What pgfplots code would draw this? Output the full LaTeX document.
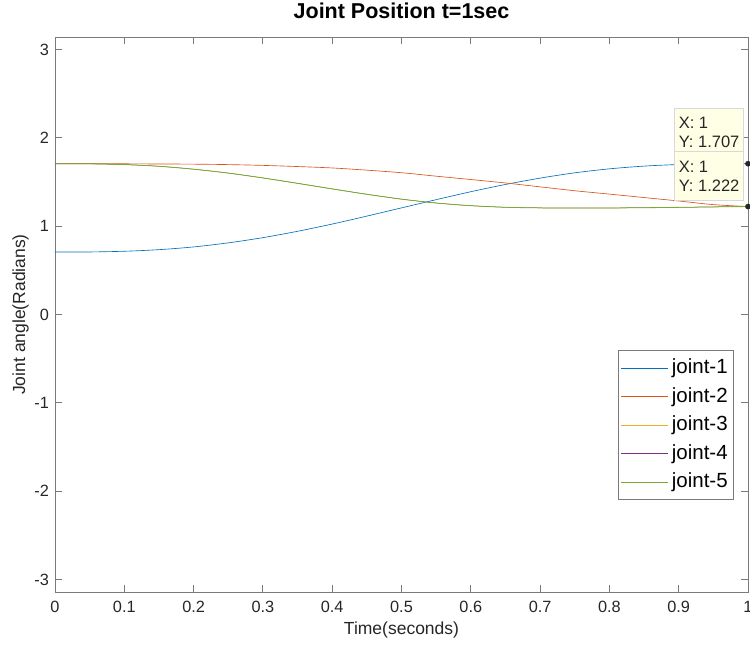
\documentclass[border=0pt]{standalone}
\usepackage{pgfplots}
\usepackage{pgfplotstable}
\pgfplotsset{compat=1.18}
\usepackage{fontspec}
\setmainfont{Liberation Sans}
\definecolor{c1}{rgb}{0,0.447,0.741}
\definecolor{c2}{rgb}{0.85,0.325,0.098}
\definecolor{c3}{rgb}{0.929,0.694,0.125}
\definecolor{c4}{rgb}{0.494,0.184,0.556}
\definecolor{c5}{rgb}{0.466,0.674,0.188}
\definecolor{axgray}{HTML}{7A7A7A}
\definecolor{txt}{HTML}{262626}
\definecolor{tipfill}{rgb}{1,1,0.9}

\pgfplotstableread{
t    j1    j2    j5
0.00 0.707 1.707 1.707
0.05 0.708 1.707 1.706
0.10 0.716 1.706 1.697
0.15 0.734 1.704 1.678
0.20 0.765 1.702 1.645
0.25 0.811 1.697 1.601
0.30 0.870 1.688 1.546
0.35 0.942 1.675 1.485
0.40 1.024 1.659 1.422
0.45 1.114 1.634 1.361
0.50 1.207 1.605 1.306
0.55 1.300 1.566 1.262
0.60 1.390 1.528 1.232
0.65 1.472 1.489 1.214
0.70 1.544 1.445 1.207
0.75 1.604 1.401 1.205
0.80 1.649 1.363 1.206
0.85 1.680 1.324 1.209
0.90 1.698 1.285 1.213
0.95 1.706 1.244 1.218
1.00 1.707 1.222 1.222
}\jointdata

\begin{document}
\begin{tikzpicture}
\useasboundingbox (-55pt,-53pt) rectangle (695pt,592pt);
\begin{axis}[
  at={(0pt,0pt)}, anchor=south west,
  scale only axis,
  width=693pt, height=555pt,
  xmin=0, xmax=1, ymin=-3.1416, ymax=3.1416,
  xtick={0,0.1,0.2,0.3,0.4,0.5,0.6,0.7,0.8,0.9,1},
  ytick={-3,-2,-1,0,1,2,3},
  tick align=inside,
  major tick length=7pt,
  axis line style={draw=axgray, line width=0.9pt},
  tick style={draw=axgray, line width=0.9pt},
  /pgf/number format/assume math mode=true,
  ticklabel style={font=\fontsize{16.3}{19}\selectfont, text=txt},
  xticklabel style={yshift=-6pt},
  yticklabel style={xshift=-2.5pt},
  xlabel={Time(seconds)},
  ylabel={Joint angle(Radians)},
  label style={font=\fontsize{17.5}{20}\selectfont, text=txt},
  xlabel style={at={(axis description cs:0.5,-0.0676)}, anchor=center},
  ylabel style={at={(axis description cs:-0.0498,0.5)}, anchor=center},
  title={Joint Position t=1sec},
  title style={font=\bfseries\fontsize{21.5}{24}\selectfont, at={(axis description cs:0.5,1.036)}, anchor=center},
  clip=false,
  legend cell align=left,
  legend style={at={(0.98,0.166)}, anchor=south east, draw=axgray, line width=0.9pt,
    fill=white, inner sep=3pt,
    font=\fontsize{20.5}{23}\selectfont,
    nodes={text height=15pt, text depth=4.3pt, inner ysep=4.6pt, inner xsep=3pt}},
  legend image code/.code={\draw[#1, line width=0.8pt] (0pt,0pt) -- (47pt,0pt);},
]
\addplot[c1, line width=0.65pt, smooth] table[x=t, y=j1] {\jointdata};
\addlegendentry{joint-1}
\addplot[c2, line width=0.65pt, smooth] table[x=t, y=j2] {\jointdata};
\addlegendentry{joint-2}
\addplot[c3, line width=0.2pt, smooth] table[x=t, y=j5] {\jointdata};
\addlegendentry{joint-3}
\addplot[c4, line width=0.2pt, smooth] table[x=t, y=j5] {\jointdata};
\addlegendentry{joint-4}
\addplot[c5, line width=0.8pt, smooth] table[x=t, y=j5] {\jointdata};
\addlegendentry{joint-5}
\node[anchor=north east, draw=black!15, line width=0.8pt, fill=tipfill, minimum width=69pt, minimum height=49pt,
  align=left, inner xsep=4pt, font=\fontsize{16.5}{19}\selectfont, text=txt]
  at (axis description cs:0.99423,0.8726) {X: 1\\Y: 1.707};
\node[anchor=north east, draw=black!15, line width=0.8pt, fill=tipfill, minimum width=69pt, minimum height=49pt,
  align=left, inner xsep=4pt, font=\fontsize{16.5}{19}\selectfont, text=txt]
  at (axis description cs:0.99423,0.7946) {X: 1\\Y: 1.222};
\addplot[only marks, mark=*, mark size=2.6pt, black!85, forget plot] coordinates {(1,1.707) (1,1.222)};
\end{axis}
\end{tikzpicture}
\end{document}
